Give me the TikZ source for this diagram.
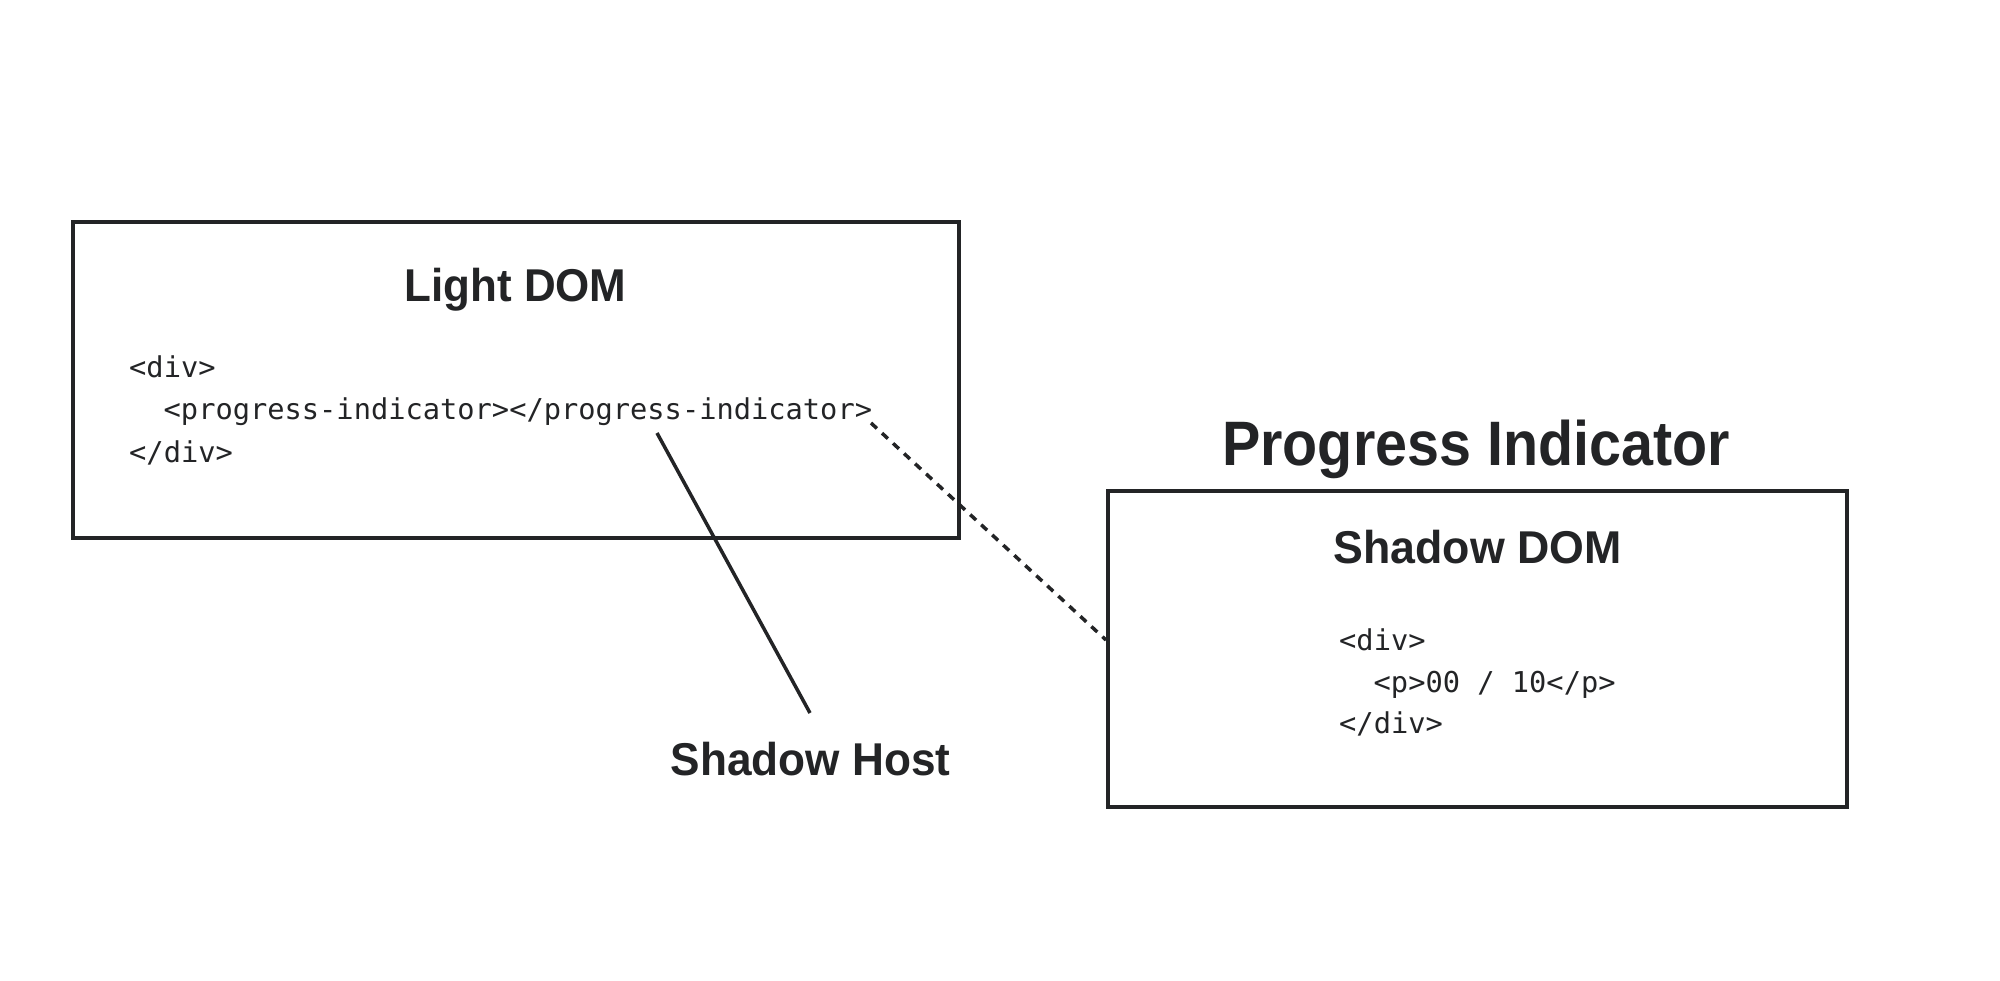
\documentclass[tikz,border=0pt]{standalone}
\usepackage{fontspec}
\usepackage{graphicx}
\newfontfamily\headfont{Liberation Sans}
\newfontfamily\codefont{DejaVu Sans Mono}
\definecolor{ink}{RGB}{35,36,38}
\begin{document}
\begin{tikzpicture}[x=1pt,y=-1pt,
  heading/.style={font={\headfont\bfseries\fontsize{46}{50}\selectfont}, text=ink, inner sep=0pt, anchor=base},
  bigheading/.style={heading, font={\headfont\bfseries\fontsize{62.8}{66}\selectfont}},
  code/.style={font={\codefont\fontsize{28.7}{34}\selectfont}, text=ink, inner sep=0pt, anchor=base west},
  frame/.style={draw=ink, line width=4pt, inner sep=0pt, rectangle},
  link/.style={draw=ink, line width=3.5pt},
  dotlink/.style={draw=ink, line width=3.5pt, dash pattern=on 8pt off 7pt}]
\useasboundingbox (0,0) rectangle (2000,981);
\fill[white] (0,0) rectangle (2000,981);

% boxes
\node[frame, minimum width=886pt, minimum height=316pt] (lightbox) at (515.85,380) {};
\node[frame, minimum width=739pt, minimum height=316pt] (shadowbox) at (1477.5,649) {};

% headings
\node[heading] (light) at (515.5,302) {\scalebox{0.955}[1]{Light DOM}};
\node[bigheading] (pi) at (1476,465) {\scalebox{0.915}[1]{Progress Indicator}};
\node[heading] (sdom) at (1477.5,563) {\scalebox{0.972}[1]{Shadow DOM}};
\node[heading] (host) at (810.5,775) {\scalebox{0.96}[1]{Shadow Host}};

% light DOM code
\node[code] (l1) at (129,378) {<div>};
\node[code] (l2) at (163.5,420) {<progress-indicator></progress-indicator>};
\node[code] (l3) at (129,462) {</div>};

% shadow DOM code
\node[code] (s1) at (1339,650) {<div>};
\node[code] (s2) at (1373.5,692) {<p>00 / 10</p>};
\node[code] (s3) at (1339,733) {</div>};

% connectors
\coordinate (tagFoot) at (657,433);
\coordinate (hostTop) at (810,713);
\draw[link] (tagFoot) -- (hostTop);
\coordinate (tagEnd) at (871,423);
\coordinate (sdIn) at (1106,640);
\draw[dotlink] (tagEnd) -- (sdIn);
\end{tikzpicture}
\end{document}
